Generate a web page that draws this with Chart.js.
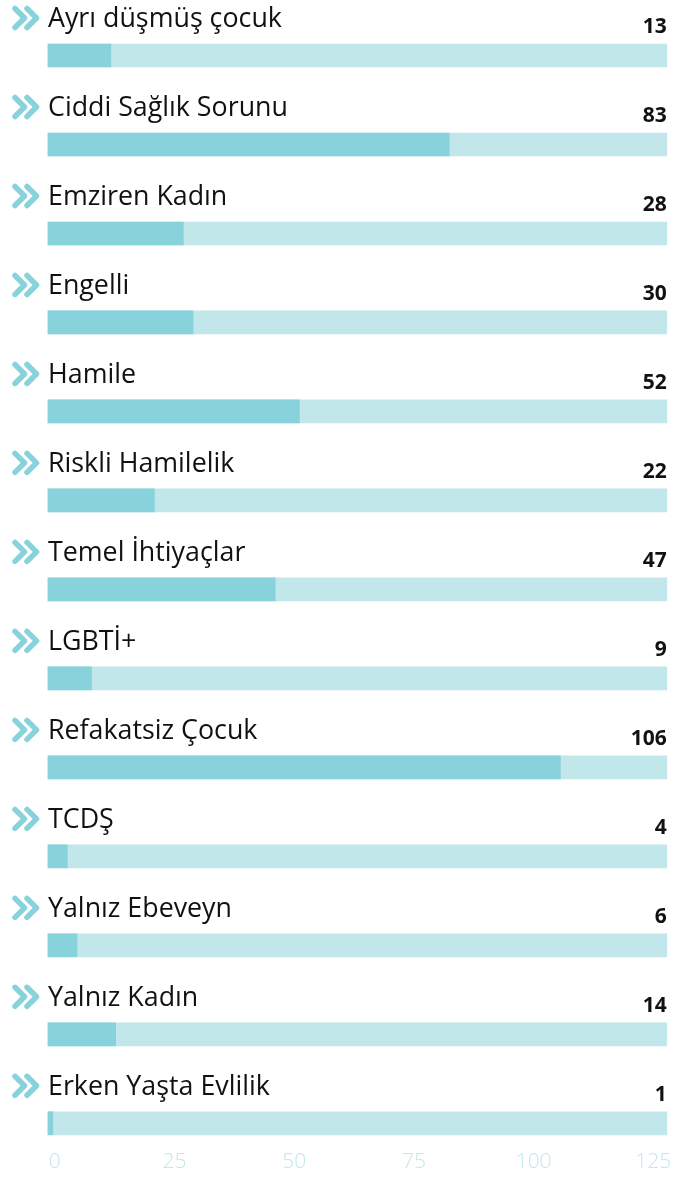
<!DOCTYPE html>
<html>
<head>
<meta charset="utf-8">
<script src="https://cdn.jsdelivr.net/npm/chart.js@4.4.1/dist/chart.umd.min.js"></script>
<style>
  html, body { margin: 0; padding: 0; background: #fff; overflow: hidden; }
  canvas { display: block; }
</style>
</head>
<body>
<canvas id="chart" width="698" height="1203"></canvas>
<script>
// values
var categories = [
  'Ayrı düşmüş çocuk',
  'Ciddi Sağlık Sorunu',
  'Emziren Kadın',
  'Engelli',
  'Hamile',
  'Riskli Hamilelik',
  'Temel İhtiyaçlar',
  'LGBTİ+',
  'Refakatsiz Çocuk',
  'TCDŞ',
  'Yalnız Ebeveyn',
  'Yalnız Kadın',
  'Erken Yaşta Evlilik'
];
var counts = [13, 83, 28, 30, 52, 22, 47, 9, 106, 4, 6, 14, 1];
// light background track behind each bar
var trackValues = [128, 128, 128, 128, 128, 128, 128, 128, 128, 128, 128, 128, 128];
var tickValues = [0, 25, 50, 75, 100, 125];

var barColor = '#88d2db';
var trackColor = '#c2e7ea';

// draws the chevron, the category name and the count above every bar
var rowLabels = {
  id: 'rowLabels',
  afterDatasetsDraw: function(chart) {
    var ctx = chart.ctx;
    var yScale = chart.scales.y;
    var left = chart.chartArea.left;
    var right = chart.chartArea.right;
    ctx.save();
    categories.forEach(function(name, i) {
      var top = yScale.getPixelForValue(i) - 11.5;

      // double chevron
      var cy = top - 26;
      ctx.strokeStyle = barColor;
      ctx.lineWidth = 5.5;
      ctx.lineCap = 'round';
      ctx.lineJoin = 'round';
      [15, 27].forEach(function(x0) {
        ctx.beginPath();
        ctx.moveTo(x0, cy - 9.5);
        ctx.lineTo(x0 + 9.5, cy);
        ctx.lineTo(x0, cy + 9.5);
        ctx.stroke();
      });

      ctx.fillStyle = '#111';
      ctx.textBaseline = 'alphabetic';
      ctx.textAlign = 'left';
      ctx.font = '26.8px "Open Sans", "Noto Sans", sans-serif';
      ctx.fillText(name, left, top - 17);

      ctx.textAlign = 'right';
      ctx.font = 'bold 21px "Open Sans", "Noto Sans", sans-serif';
      ctx.fillText(String(counts[i]), right, top - 11);
    });
    ctx.restore();
  }
};

var config = {
  type: 'bar',
  data: {
    labels: categories,
    datasets: [
      {
        label: 'count',
        data: counts,
        backgroundColor: barColor,
        barThickness: 23,
        grouped: false,
        order: 0,
        clip: false,
        xAxisID: 'x',
        yAxisID: 'y'
      },
      {
        label: 'track',
        data: trackValues,
        backgroundColor: trackColor,
        barThickness: 23,
        grouped: false,
        order: 1,
        clip: false,
        xAxisID: 'x',
        yAxisID: 'y'
      }
    ]
  },
  options: {
    indexAxis: 'y',
    responsive: false,
    animation: false,
    devicePixelRatio: 1,
    layout: { padding: { top: 55.5, left: 48, right: 7, bottom: 2.5 } },
    plugins: {
      legend: { display: false },
      tooltip: { enabled: false }
    },
    scales: {
      y: {
        type: 'category',
        display: false,
        offset: false
      },
      x: {
        type: 'linear',
        display: false,
        min: 0,
        max: 128
      },
      // axis only for the tick labels under the bars
      x2: {
        type: 'linear',
        position: 'bottom',
        min: -1.407,
        max: 127.81,
        grid: { display: false, drawTicks: false },
        border: { display: false },
        afterBuildTicks: function(scale) {
          scale.ticks = tickValues.map(function(v) { return { value: v }; });
        },
        ticks: {
          padding: 26,
          color: trackColor,
          font: { family: '"Open Sans", "Noto Sans", sans-serif', size: 21, weight: 300 }
        }
      }
    }
  },
  plugins: [rowLabels]
};

window.myChart = new Chart(document.getElementById('chart'), config);
</script>
</body>
</html>
